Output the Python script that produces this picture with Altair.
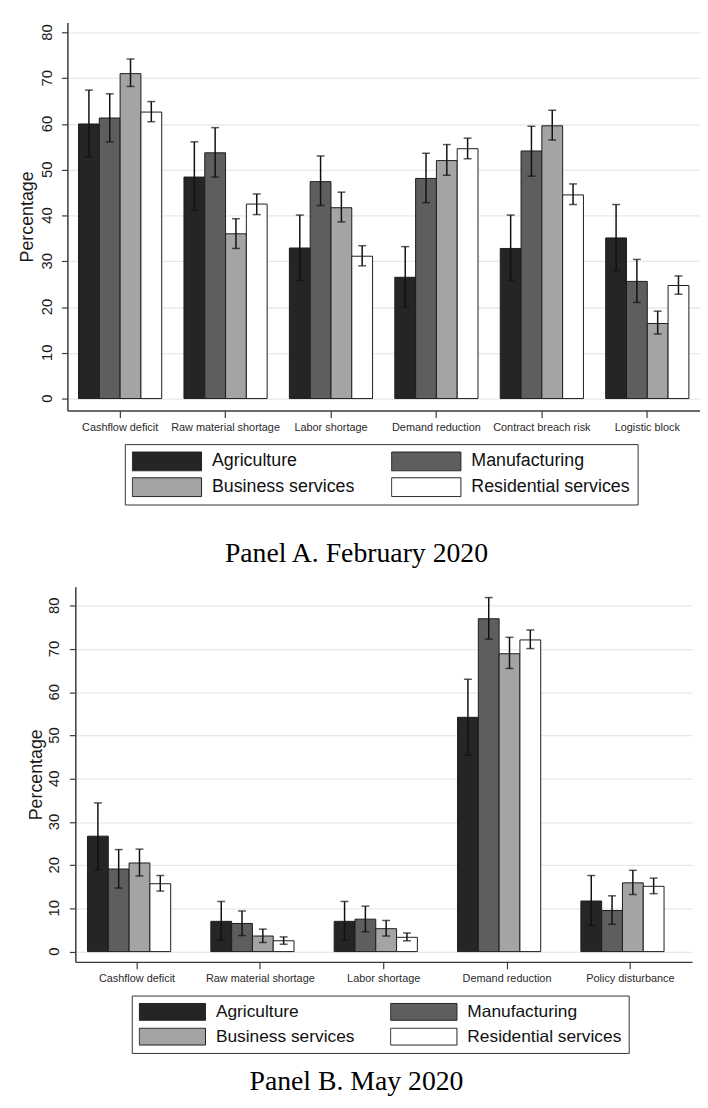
import altair as alt
import pandas as pd

sectors = ["Agriculture", "Manufacturing", "Business services", "Residential services"]
sector_colors = ["#252525", "#5e5e5e", "#a4a4a4", "#ffffff"]

# ---------------- Panel A: February 2020 ----------------
cats_a = ["Cashflow deficit", "Raw material shortage", "Labor shortage",
          "Demand reduction", "Contract breach risk", "Logistic block"]
a_agri = [60.0, 48.4, 32.9, 26.5, 32.8, 35.1]
a_agri_lo = [52.8, 41.1, 25.8, 20.0, 25.8, 28.0]
a_agri_hi = [67.4, 56.1, 40.1, 33.2, 40.1, 42.4]
a_manu = [61.3, 53.7, 47.4, 48.1, 54.1, 25.6]
a_manu_lo = [56.1, 48.4, 42.2, 42.8, 48.6, 21.0]
a_manu_hi = [66.6, 59.2, 53.0, 53.6, 59.5, 30.4]
a_bus = [71.0, 36.0, 41.7, 52.0, 59.6, 16.4]
a_bus_lo = [68.2, 32.8, 38.6, 48.8, 56.5, 14.1]
a_bus_hi = [74.2, 39.3, 45.1, 55.5, 63.0, 19.1]
a_res = [62.6, 42.5, 31.1, 54.6, 44.5, 24.7]
a_res_lo = [60.5, 40.2, 29.0, 52.4, 42.4, 22.8]
a_res_hi = [64.9, 44.7, 33.4, 56.9, 46.9, 26.8]

# ---------------- Panel B: May 2020 ----------------
cats_b = ["Cashflow deficit", "Raw material shortage", "Labor shortage",
          "Demand reduction", "Policy disturbance"]
b_agri = [26.7, 7.0, 7.0, 54.2, 11.7]
b_agri_lo = [18.9, 2.6, 2.6, 45.4, 6.0]
b_agri_hi = [34.4, 11.6, 11.6, 63.0, 17.6]
b_manu = [19.1, 6.5, 7.5, 77.0, 9.5]
b_manu_lo = [14.7, 3.7, 4.6, 72.3, 6.3]
b_manu_hi = [23.6, 9.4, 10.5, 81.9, 12.9]
b_bus = [20.5, 3.6, 5.3, 68.9, 15.9]
b_bus_lo = [17.5, 2.1, 3.6, 65.5, 13.2]
b_bus_hi = [23.7, 5.2, 7.2, 72.7, 18.8]
b_res = [15.7, 2.5, 3.3, 72.1, 15.1]
b_res_lo = [14.0, 1.7, 2.5, 70.1, 13.4]
b_res_hi = [17.6, 3.4, 4.3, 74.4, 17.0]

y_ticks = [0, 10, 20, 30, 40, 50, 60, 70, 80]


def make_df(cats, vals, los, his):
    rows = []
    for s, v, lo, hi in zip(sectors, vals, los, his):
        for c, a, b, d in zip(cats, v, lo, hi):
            rows.append({"cat": c, "sector": s, "val": a, "lo": b, "hi": d, "base": 0})
    return pd.DataFrame(rows)


df_a = make_df(cats_a, [a_agri, a_manu, a_bus, a_res],
               [a_agri_lo, a_manu_lo, a_bus_lo, a_res_lo],
               [a_agri_hi, a_manu_hi, a_bus_hi, a_res_hi])
df_b = make_df(cats_b, [b_agri, b_manu, b_bus, b_res],
               [b_agri_lo, b_manu_lo, b_bus_lo, b_res_lo],
               [b_agri_hi, b_manu_hi, b_bus_hi, b_res_hi])

AX = "#3a3a3a"


def panel(df, cats, width, height, ydom, pin, pout, leg, title_text, tx, ty, ytitle_x):
    xaxis = alt.Axis(title=None, labelFontSize=11, labelAngle=0, labelColor="#2a2a2a",
                     labelFont="Liberation Sans", tickSize=7, tickColor=AX, tickWidth=1.2,
                     domainColor=AX, domainWidth=1.5, labelPadding=4, grid=False,
                     labelLimit=300)
    yaxis = alt.Axis(title="Percentage", titleFontSize=18, titleFont="Liberation Sans",
                     titleFontWeight="normal", titleColor="#1a1a1a",
                     titleX=ytitle_x, titleY=height / 2, titleAngle=270,
                     titleAlign="center", titleBaseline="middle",
                     values=y_ticks, labels=False,
                     tickSize=6, tickColor=AX, tickWidth=1.2, domainColor=AX, domainWidth=1.5,
                     grid=True, gridColor="#e8e8e8", gridWidth=1.3)
    xenc = alt.X("cat:N", sort=cats, scale=alt.Scale(paddingInner=pin, paddingOuter=pout), axis=xaxis)
    xoff = alt.XOffset("sector:N", sort=sectors,
                       scale=alt.Scale(domain=sectors, paddingInner=0, paddingOuter=0))
    yscale = alt.Scale(domain=ydom, nice=False, zero=False)
    base = alt.Chart(df)
    bars = base.mark_bar(stroke="#1c1c1c", strokeWidth=1).encode(
        x=xenc, xOffset=xoff,
        y=alt.Y("val:Q", scale=yscale, axis=yaxis),
        y2=alt.Y2("base:Q"),
        fill=alt.Fill("sector:N", scale=alt.Scale(domain=sectors, range=sector_colors), legend=leg),
    )
    rules = base.mark_rule(color="#111111", strokeWidth=1.5).encode(
        x=xenc, xOffset=xoff,
        y=alt.Y("lo:Q", scale=yscale, axis=yaxis), y2=alt.Y2("hi:Q"))
    cap_hi = base.mark_tick(color="#111111", thickness=1.5, size=8).encode(
        x=xenc, xOffset=xoff, y=alt.Y("hi:Q", scale=yscale, axis=yaxis))
    cap_lo = base.mark_tick(color="#111111", thickness=1.5, size=8).encode(
        x=xenc, xOffset=xoff, y=alt.Y("lo:Q", scale=yscale, axis=yaxis))
    # rotated y tick labels (Stata style), positioned through the y scale
    ylab = alt.Chart(alt.Data(values=[{"v": v, "s": str(v), "ang": 270} for v in y_ticks])).mark_text(
        align="center", baseline="middle", fontSize=15, color="#1a1a1a",
        font="Liberation Sans"
    ).encode(x=alt.value(-21), y=alt.Y("v:Q", scale=yscale, axis=yaxis), text="s:N",
             angle=alt.Angle("ang:Q", scale=None))
    ttl = alt.Chart(alt.Data(values=[{"t": title_text}])).mark_text(
        font="Liberation Serif", fontSize=28, color="black", baseline="alphabetic", align="center"
    ).encode(x=alt.value(tx), y=alt.value(ty), text="t:N")
    return alt.layer(bars, rules, cap_hi, cap_lo, ylab, ttl).properties(width=width, height=height)


leg_a = alt.Legend(orient="none", legendX=58, legendY=426, columns=2, direction="horizontal",
                   title=None,
                   symbolType="M-1,-0.2714H1V0.2714H-1Z", symbolSize=4900, clipHeight=21,
                   labelFontSize=18, labelFont="Liberation Sans", labelColor="#111111",
                   labelOffset=10, labelLimit=400, columnPadding=36, rowPadding=5, padding=7,
                   strokeColor="#333333", symbolStrokeColor="#222222", symbolStrokeWidth=1,
                   symbolOpacity=1)
leg_b = alt.Legend(orient="none", legendX=57, legendY=413, columns=2, direction="horizontal",
                   title=None,
                   symbolType="M-1,-0.2537H1V0.2537H-1Z", symbolSize=4489, clipHeight=19,
                   labelFontSize=17.5, labelFont="Liberation Sans", labelColor="#111111",
                   labelOffset=10, labelLimit=400, columnPadding=35, rowPadding=6, padding=7,
                   strokeColor="#333333", symbolStrokeColor="#222222", symbolStrokeWidth=1,
                   symbolOpacity=1)

pa = panel(df_a, cats_a, 639, 392, [-2.6, 82.2], 0.211, 0.1055, leg_a,
           "Panel A. February 2020", 292, 545, -40)
pb = panel(df_b, cats_b, 623, 379, [-2.38, 84.42], 0.197, 0.0987, leg_b,
           "Panel B. May 2020", 284, 508, -39)

chart = alt.vconcat(pa, pb, spacing=19, center=True).resolve_scale(
    fill="independent").resolve_legend(fill="independent").properties(
    padding={"left": 11, "top": 9, "right": 0, "bottom": 0}
).configure(font="Liberation Sans").configure_view(stroke=None)

chart.save("out.html", embed_options={"renderer": "svg", "actions": False})
